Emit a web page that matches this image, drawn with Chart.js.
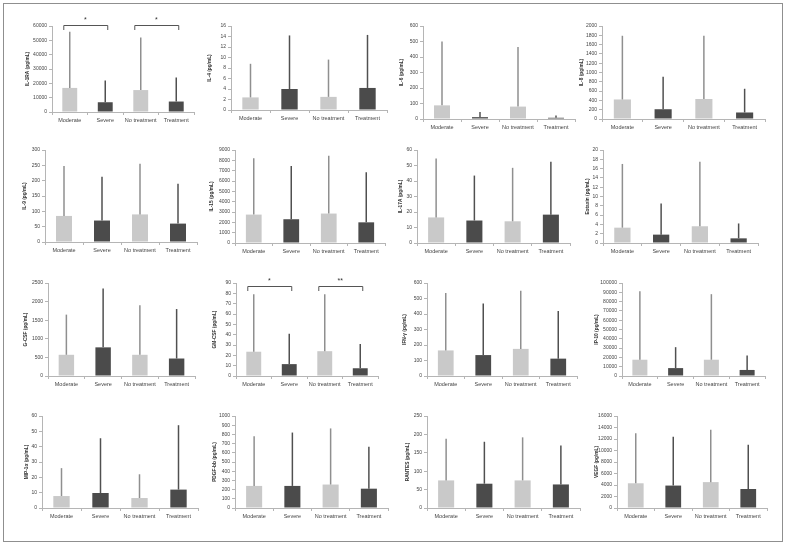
<!DOCTYPE html>
<html>
<head>
<meta charset="utf-8">
<script src="https://cdn.jsdelivr.net/npm/chart.js@4.4.1/dist/chart.umd.min.js"></script>
<style>
  html, body { margin: 0; padding: 0; background: #fff; }
  body { width: 787px; height: 546px; position: relative; overflow: hidden; }
  #frame { position: absolute; left: 3px; top: 3px; width: 778px; height: 537px; border: 1px solid #8f8f8f; }
  canvas { position: absolute; }
</style>
</head>
<body>
<div id="frame"></div>
<script>
// ---------- DATA ----------
const categories = ['Moderate', 'Severe', 'No treatment', 'Treatment'];

const yTitles = ['IL-1RA (pg/mL)', 'IL-4 (pg/mL)', 'IL-6 (pg/mL)', 'IL-8 (pg/mL)',
                 'IL-9 (pg/mL)', 'IL-15 (pg/mL)', 'IL-17A (pg/mL)', 'Eotaxin (pg/mL)',
                 'G-CSF (pg/mL)', 'GM-CSF (pg/mL)', 'IFN-γ (pg/mL)', 'IP-10 (pg/mL)',
                 'MIP-1α (pg/mL)', 'PDGF-bb (pg/mL)', 'RANTES (pg/mL)', 'VEGF (pg/mL)'];
const yMax  = [60000, 16, 600, 2000, 300, 9000, 60, 20, 2500, 90, 600, 100000, 60, 1000, 250, 16000];
const yStep = [10000, 2, 100, 200, 50, 1000, 10, 2, 500, 10, 100, 10000, 10, 100, 50, 2000];

// bar heights (mean) and top of the error bar
const il1raMean = [16800, 6800, 15300, 7300];   const il1raTop = [56000, 22000, 52000, 24000];
const il4Mean   = [2.4, 4.0, 2.5, 4.2];         const il4Top   = [8.8, 14.2, 9.6, 14.3];
const il6Mean   = [88, 12, 80, 8];              const il6Top   = [500, 45, 465, 22];
const il8Mean   = [420, 210, 430, 140];         const il8Top   = [1790, 910, 1790, 650];
const il9Mean   = [85, 70, 90, 60];             const il9Top   = [248, 213, 255, 190];
const il15Mean  = [2750, 2300, 2850, 2000];     const il15Top  = [8200, 7450, 8450, 6850];
const il17aMean = [16.5, 14.5, 14, 18.3];       const il17aTop = [54.5, 43.5, 48.5, 52.5];
const eotaxinMean = [3.3, 1.8, 3.6, 1.0];       const eotaxinTop = [17, 8.5, 17.5, 4.2];
const gcsfMean  = [570, 770, 570, 470];         const gcsfTop  = [1650, 2350, 1900, 1800];
const gmcsfMean = [23.5, 11.5, 24, 7.5];        const gmcsfTop = [79, 41, 79, 31];
const ifngMean  = [165, 135, 175, 112];         const ifngTop  = [535, 468, 550, 420];
const ip10Mean  = [17500, 8500, 17500, 6500];   const ip10Top  = [91000, 31000, 88000, 22000];
const mip1aMean = [7.8, 9.8, 6.5, 12];          const mip1aTop = [26, 45.5, 22, 54];
const pdgfMean  = [240, 240, 255, 210];         const pdgfTop  = [780, 820, 865, 665];
const rantesMean = [75, 66, 75, 64];            const rantesTop = [188, 180, 192, 170];
const vegfMean  = [4300, 3900, 4500, 3300];     const vegfTop  = [13000, 12400, 13600, 11000];

// significance marks: [panel index, from category, to category, label]
const significance = [[0, 0, 1, '*'], [0, 2, 3, '*'], [9, 0, 1, '*'], [9, 2, 3, '**']];

const means = [il1raMean, il4Mean, il6Mean, il8Mean, il9Mean, il15Mean, il17aMean, eotaxinMean,
               gcsfMean, gmcsfMean, ifngMean, ip10Mean, mip1aMean, pdgfMean, rantesMean, vegfMean];
const tops  = [il1raTop, il4Top, il6Top, il8Top, il9Top, il15Top, il17aTop, eotaxinTop,
               gcsfTop, gmcsfTop, ifngTop, ip10Top, mip1aTop, pdgfTop, rantesTop, vegfTop];

// ---------- LAYOUT (pixel boxes: axis x, top tick y, zero y, right end x, title centre x, bracket offset) ----------
const layoutBoxes = [
  [52, 26, 111.5, 194, 28, -1], [231, 26, 110, 387, 210, 0], [423, 26, 118.7, 575, 402, 0], [602, 26, 118.7, 765, 582, 0],
  [45, 150, 242, 197, 25, 0], [235, 150, 242.7, 385, 212, 0], [417, 150, 242.7, 570, 401, 0], [603, 150, 242.7, 758, 588, 0],
  [48, 283, 376, 195, 26, 0], [236, 283, 376, 378, 215, 3], [427, 283, 376, 577, 405, 0], [622, 283, 376, 765, 597, 0],
  [42, 416, 508, 198, 27, 0], [235, 416, 508, 388, 215, 0], [427, 416, 508, 580, 408, 0], [617, 416, 508, 767, 597, 0]
];

const LIGHT = '#c9c9c9', DARK = '#4b4b4b';
const FONT = '"Liberation Sans", Arial, sans-serif';

const errPlugin = {
  id: 'errbars',
  afterDatasetsDraw(chart, args, opts) {
    const ctx = chart.ctx;
    const meta = chart.getDatasetMeta(0);
    const ys = chart.scales.y;
    ctx.save();
    meta.data.forEach((bar, i) => {
      const yTop = ys.getPixelForValue(opts.upper[i]);
      ctx.beginPath();
      ctx.strokeStyle = i % 2 ? '#505050' : '#8f8f8f';
      ctx.lineWidth = 1.5;
      ctx.moveTo(bar.x, bar.y);
      ctx.lineTo(bar.x, yTop);
      ctx.stroke();
    });
    (opts.marks || []).forEach(m => {
      const b1 = meta.data[m[1]], b2 = meta.data[m[2]];
      const x1 = b1.x - b1.width / 2 + 1, x2 = b2.x + 2;
      const y = chart.chartArea.top + opts.bracketOffset;
      ctx.beginPath();
      ctx.strokeStyle = '#555';
      ctx.lineWidth = 1;
      ctx.moveTo(x1 + 0.5, y + 5);
      ctx.lineTo(x1 + 0.5, y + 0.5);
      ctx.lineTo(x2 + 0.5, y + 0.5);
      ctx.lineTo(x2 + 0.5, y + 5);
      ctx.stroke();
      ctx.fillStyle = '#333';
      ctx.font = '7px ' + FONT;
      ctx.textAlign = 'center';
      ctx.textBaseline = 'middle';
      ctx.fillText(m[3], (x1 + x2) / 2, y - 5);
    });
    ctx.restore();
  }
};

for (let p = 0; p < 16; p++) {
  const [ax, topY, zeroY, rightX, titleX, bOff] = layoutBoxes[p];
  const cLeft = titleX - 4;
  const cTop = topY - 18;
  const cW = rightX - cLeft + 4;
  const xH = 13;
  const cH = zeroY - cTop + xH;
  const cv = document.createElement('canvas');
  cv.width = Math.round(cW); cv.height = Math.round(cH);
  cv.style.left = cLeft + 'px'; cv.style.top = cTop + 'px';
  cv.style.width = Math.round(cW) + 'px'; cv.style.height = Math.round(cH) + 'px';
  document.body.appendChild(cv);
  const yW = ax - cLeft;
  new Chart(cv, {
    type: 'bar',
    data: {
      labels: categories,
      datasets: [{
        data: means[p],
        backgroundColor: [LIGHT, DARK, LIGHT, DARK],
        borderWidth: 0,
        barPercentage: 0.42,
        categoryPercentage: 1
      }]
    },
    options: {
      responsive: false,
      animation: false,
      devicePixelRatio: 1,
      layout: { padding: { top: topY - cTop, right: cW - (rightX - cLeft), left: 0, bottom: 0 } },
      plugins: {
        legend: { display: false },
        tooltip: { enabled: false },
        errbars: { upper: tops[p], marks: significance.filter(s => s[0] === p), bracketOffset: bOff }
      },
      scales: {
        x: {
          offset: true,
          grid: { display: true, drawOnChartArea: false, offset: true, tickLength: 3, color: '#b5b5b5' },
          border: { color: '#b5b5b5', width: 1 },
          ticks: { font: { size: 5.5, family: FONT }, color: '#444', padding: 2, maxRotation: 0, autoSkip: false },
          afterFit: s => { s.height = xH; }
        },
        y: {
          min: 0, max: yMax[p],
          grid: { display: true, drawOnChartArea: false, tickLength: 3, color: '#b5b5b5' },
          border: { color: '#b5b5b5', width: 1 },
          ticks: { stepSize: yStep[p], font: { size: 5, family: FONT }, color: '#444', padding: 2,
                   callback: v => String(v) },
          title: { display: true, text: yTitles[p], font: { size: 4.8, weight: 'bold', family: FONT }, color: '#333', padding: { top: 1, bottom: 0 } },
          afterFit: s => { s.width = yW; }
        }
      }
    },
    plugins: [errPlugin]
  });
}
</script>
</body>
</html>
